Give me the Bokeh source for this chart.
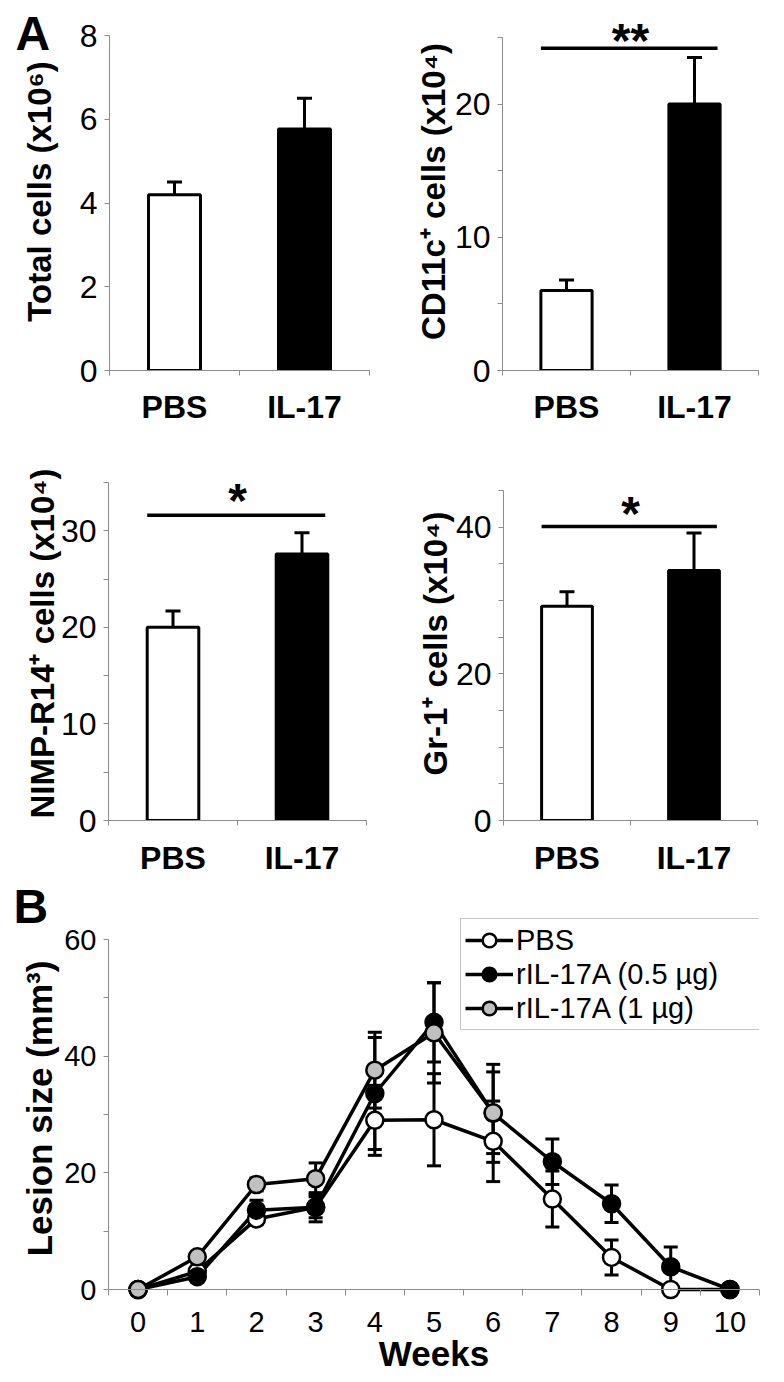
from bokeh.plotting import figure
from bokeh.models import (ColumnDataSource, FixedTicker, Range1d, Label, Legend, LegendItem,
                          Span, Title)
from bokeh.layouts import column, row
from bokeh.embed import file_html
from bokeh.resources import INLINE

FONT = "Liberation Sans"
GRAY = "#8c8c8c"

# ---------------- data ----------------
groups = ["PBS", "IL-17"]
bar_colors = ["white", "black"]

total_cells = [4.2, 5.77]
total_sem = [0.3, 0.73]
cd11c_cells = [6.0, 20.0]
cd11c_sem = [0.8, 3.5]
nimp_cells = [20.0, 27.6]
nimp_sem = [1.7, 2.2]
gr1_cells = [29.2, 34.1]
gr1_sem = [2.0, 5.1]

total_ticks = [0, 2, 4, 6, 8]
total_minor = []
cd11c_ticks = [0, 10, 20]
cd11c_minor = [5, 15, 25]
nimp_ticks = [0, 10, 20, 30]
nimp_minor = [5, 15, 25, 35]
gr1_ticks = [0, 20, 40]
gr1_minor = [5, 10, 15, 25, 30, 35, 45]

cd11c_sig = 24.2
nimp_sig = 31.6
gr1_sig = 40.1

weeks = [0, 1, 2, 3, 4, 5, 6, 7, 8, 9, 10]
pbs_lesion = [0, 3.1, 12.1, 14.1, 29.0, 29.1, 25.4, 15.5, 5.5, 0, 0]
pbs_sem = [0, 0.5, 1.0, 2.5, 6.0, 7.9, 6.9, 4.8, 3.0, 0, 0]
il05_lesion = [0, 2.2, 13.6, 14.1, 33.6, 45.8, 30.2, 21.9, 14.7, 3.9, 0]
il05_sem = [0, 0.4, 1.7, 1.8, 9.6, 6.8, 8.4, 3.9, 3.2, 3.4, 0]
il1_weeks = [0, 1, 2, 3, 4, 5, 6]
il1_lesion = [0, 5.6, 18.0, 19.0, 37.6, 44.0, 30.3]
il1_sem = [0, 0.5, 1.1, 2.7, 6.5, 8.6, 7.0]
lesion_ticks = [0, 20, 40, 60]
lesion_minor = [10, 30, 50]


def style_yaxis(ax, ticks, minor, top, label, tick_px, title_px, title_standoff):
    ax.ticker = FixedTicker(ticks=ticks, minor_ticks=minor)
    ax.bounds = (0, top)
    ax.axis_line_color = GRAY
    ax.axis_line_width = 1
    ax.major_tick_line_color = GRAY
    ax.minor_tick_line_color = GRAY
    ax.major_tick_out = 5
    ax.major_tick_in = 0
    ax.minor_tick_out = 5
    ax.minor_tick_in = 0
    ax.major_label_standoff = 7
    ax.major_label_text_font = FONT
    ax.major_label_text_font_size = tick_px
    ax.major_label_text_color = "black"
    ax.axis_label = label
    ax.axis_label_text_font = FONT
    ax.axis_label_text_font_style = "bold"
    ax.axis_label_text_font_size = title_px
    ax.axis_label_text_color = "black"
    ax.axis_label_standoff = title_standoff


def panel_letter(p, letter, offset, standoff):
    p.add_layout(Title(text=letter, align="left", vertical_align="bottom",
                       offset=offset, standoff=standoff, text_font=FONT,
                       text_font_style="bold", text_font_size="48px",
                       text_color="black"), "above")


def bar_panel(values, sem, ylabel, ticks, minor, top, W, H, L, FW, T, FH, axis_px,
              cat_standoff, title_standoff, sig=None, mark=None, mark_drop=0):
    ppu = axis_px / top
    n = len(groups)
    p = figure(width=W, height=H, x_range=Range1d(0, n), y_range=Range1d(0, FH / ppu),
               output_backend="svg", toolbar_location=None, title=None,
               min_border_left=L, min_border_right=W - L - FW,
               min_border_top=T, min_border_bottom=H - T - FH)
    p.outline_line_color = None
    p.grid.visible = False
    xs = [i + 0.5 for i in range(n)]
    src = ColumnDataSource(dict(x=xs, v=values,
                                hi=[v + e for v, e in zip(values, sem)], c=bar_colors))
    p.segment(x0="x", y0="v", x1="x", y1="hi", source=src, line_color="black", line_width=3)
    p.scatter(x="x", y="hi", source=src, marker="dash", size=15,
              line_color="black", line_width=3)
    p.vbar(x="x", top="v", bottom=0, width=0.4, source=src, fill_color="c",
           line_color="black", line_width=3)
    if sig is not None:
        p.segment(x0=[xs[0] - 0.2], y0=[sig], x1=[xs[-1] + 0.18], y1=[sig],
                  line_color="black", line_width=3.5)
        p.add_layout(Label(x=n / 2, y=sig - mark_drop / ppu, text=mark,
                           text_font=FONT, text_font_style="bold", text_font_size="48px",
                           text_align="center", text_baseline="alphabetic", text_color="black"))
    xa = p.xaxis[0]
    xa.ticker = FixedTicker(ticks=xs, minor_ticks=list(range(n + 1)))
    xa.major_label_overrides = {x: g for x, g in zip(xs, groups)}
    xa.axis_line_color = GRAY
    xa.major_tick_line_color = None
    xa.major_tick_out = 0
    xa.major_tick_in = 0
    xa.minor_tick_line_color = GRAY
    xa.minor_tick_out = 5
    xa.minor_tick_in = 0
    xa.major_label_standoff = cat_standoff
    xa.major_label_text_font = FONT
    xa.major_label_text_font_style = "bold"
    xa.major_label_text_font_size = "32px"
    xa.major_label_text_color = "black"
    style_yaxis(p.yaxis[0], ticks, minor, top, ylabel, "32px", "33px", title_standoff)
    return p


p1 = bar_panel(total_cells, total_sem, "Total cells (x10\u2076)", total_ticks, total_minor, 8,
               392, 430, 109, 260, 12, 358, 335, 13, 19)
panel_letter(p1, "A", -94, -94)
p2 = bar_panel(cd11c_cells, cd11c_sem, "CD11c\u207a cells (x10\u2074)", cd11c_ticks, cd11c_minor, 25,
               376, 430, 110, 256, 12, 358, 333, 13, 0, cd11c_sig, "**", -8)
p3 = bar_panel(nimp_cells, nimp_sem, "NIMP-R14\u207a cells (x10\u2074)", nimp_ticks, nimp_minor, 35,
               392, 450, 108, 258, 36, 354, 338, 14, -3, nimp_sig, "*", -15)
p4 = bar_panel(gr1_cells, gr1_sem, "Gr-1\u207a cells (x10\u2074)", gr1_ticks, gr1_minor, 45,
               376, 450, 111, 254, 36, 354, 330, 14, -1, gr1_sig, "*", -13)

# ---------------- panel B ----------------
W5, H5, L5, FW5, T5, FH5 = 768, 496, 108, 651, 35, 386
ppu5 = 350 / 60
below_zero = 12
p5 = figure(width=W5, height=H5,
            x_range=Range1d(weeks[0] - 0.5, weeks[-1] + 0.5),
            y_range=Range1d(-below_zero / ppu5, (FH5 - below_zero) / ppu5),
            output_backend="svg", toolbar_location=None, title=None,
            min_border_left=L5, min_border_right=W5 - L5 - FW5,
            min_border_top=T5, min_border_bottom=H5 - T5 - FH5)
p5.outline_line_color = None
p5.grid.visible = False
p5.add_layout(Span(location=0, dimension="width", line_color=GRAY, line_width=1))

series = [
    ("PBS", weeks, pbs_lesion, pbs_sem, "white"),
    ("rIL-17A (0.5 \u00b5g)", weeks, il05_lesion, il05_sem, "black"),
    ("rIL-17A (1 \u00b5g)", il1_weeks, il1_lesion, il1_sem, "#c0c0c0"),
]
for name, xw, yv, ev, col in series:
    ex = [x for x, e in zip(xw, ev) if e > 0]
    ey = [y for y, e in zip(yv, ev) if e > 0]
    ee = [e for e in ev if e > 0]
    lo = [y - e for y, e in zip(ey, ee)]
    hi = [y + e for y, e in zip(ey, ee)]
    p5.segment(x0=ex, y0=lo, x1=ex, y1=hi, line_color="black", line_width=3)
    p5.scatter(x=ex + ex, y=lo + hi, marker="dash", size=14, line_color="black", line_width=3)

items = []
line_rs = []
for name, xw, yv, ev, col in series:
    line_rs.append(p5.line(xw, yv, line_color="black", line_width=3.5))
for (name, xw, yv, ev, col), lr in zip(series, line_rs):
    sr = p5.scatter(xw, yv, marker="circle", size=17, fill_color=col,
                    line_color="black", line_width=2.5)
    items.append(LegendItem(label=name, renderers=[lr, sr]))

legend = Legend(items=items, location=(352, 271), orientation="vertical",
                border_line_color=GRAY, border_line_width=1,
                background_fill_color="white", background_fill_alpha=1.0,
                padding=4, spacing=0, margin=0,
                glyph_width=48, glyph_height=34, label_height=34, label_width=245,
                label_standoff=3, label_text_font=FONT, label_text_font_size="29px",
                label_text_color="black")
p5.add_layout(legend)

xa = p5.xaxis[0]
xa.ticker = FixedTicker(ticks=weeks, minor_ticks=[w - 0.5 for w in weeks] + [weeks[-1] + 0.5])
xa.axis_line_color = None
xa.major_tick_line_color = None
xa.major_tick_out = 0
xa.major_tick_in = 0
xa.minor_tick_line_color = GRAY
xa.minor_tick_in = below_zero
xa.minor_tick_out = -(below_zero - 6)
xa.major_label_standoff = 10
xa.major_label_text_font = FONT
xa.major_label_text_font_size = "29px"
xa.major_label_text_color = "black"
xa.axis_label = "Weeks"
xa.axis_label_text_font = FONT
xa.axis_label_text_font_style = "bold"
xa.axis_label_text_font_size = "35px"
xa.axis_label_text_color = "black"
xa.axis_label_standoff = -1

style_yaxis(p5.yaxis[0], lesion_ticks, lesion_minor, 60, "Lesion size (mm\u00b3)",
            "29px", "35px", 2)
panel_letter(p5, "B", -95, -34)

layout = column(row(p1, p2), row(p3, p4), p5)
open("out.html", "w").write(file_html(layout, INLINE))
